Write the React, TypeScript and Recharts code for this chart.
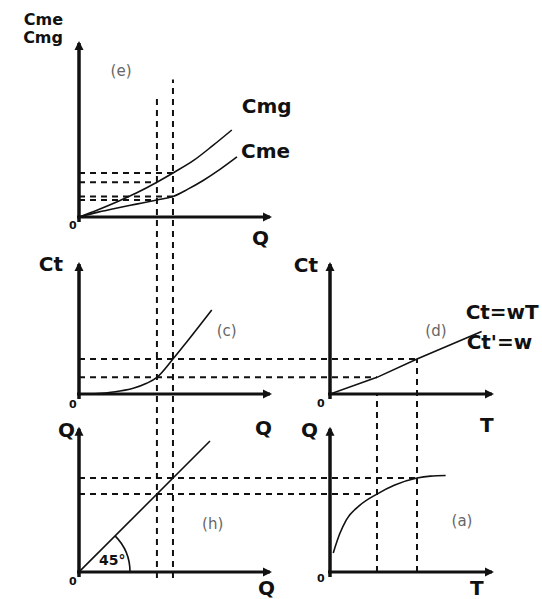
import React from 'react';
import { LineChart, Line, XAxis, YAxis, ReferenceLine, ReferenceDot } from 'recharts';

const W = 542;
const H = 599;

// two output levels followed through every panel
const Q1 = 4.08;
const Q2 = 4.92;

// (e) marginal and average cost against output
const cmgQ = [0, 1, 2, 3, Q1, Q2, 6, 7, 8];
const cmgV = [0, 0.42, 0.88, 1.38, 2.0, 2.53, 3.25, 4.1, 5.0];
const cmeQ = [0, 1, 2, 3, Q1, Q2, 5.7, 6.5, 7.4, 8.27];
const cmeV = [0, 0.28, 0.52, 0.74, 0.98, 1.18, 1.6, 2.1, 2.75, 3.45];
// height (in cost units of panel e) where the Q1 / Q2 guides stop
const qGuideTop = [7.0, 7.9];

// (c) total cost against output
const ctQ = [0, 1, 1.78, 2.84, 3.54, Q1, Q2, 5.64, 6.95];
const ctV = [0, 0.04, 0.15, 0.44, 0.82, 1.28, 2.69, 4.0, 6.46];

// (d) total cost against hours worked, Ct = wT
const T1 = 2.9;
const T2 = 5.37;
const wtT = [0, T1, T2, 9.36];
const wtV = [0, 1.28, 2.69, 4.8];

// (h) 45 degree line
const diagQ = [0, 6.86];

// (a) production function Q(T)
const prodT = [0.2, 0.6, 1.0, 1.85, T1, 4.0, T2, 6.2, 7.14];
const prodQ = [1.0, 2.0, 2.72, 3.5, Q1, 4.55, Q2, 5.02, 5.05];

const at = (xs: number[], ys: number[], x: number) => ys[xs.indexOf(x)];
const pts = (xs: number[], ys: number[]) => xs.map((x, i) => ({ x, y: ys[i] }));

const ct1 = at(ctQ, ctV, Q1);
const ct2 = at(ctQ, ctV, Q2);

// each panel: origin in pixels, pixels per unit, axis lengths
type Frame = { ox: number; oy: number; sx: number; sy: number; xMax: number; yMax: number };
const fE: Frame = { ox: 79, oy: 217, sx: 19.1, sy: 17.4, xMax: 10, yMax: 10 };
const fC: Frame = { ox: 79, oy: 394, sx: 19.1, sy: 13, xMax: 10, yMax: 10 };
const fD: Frame = { ox: 330, oy: 394, sx: 16.2, sy: 13, xMax: 10, yMax: 10 };
const fH: Frame = { ox: 79, oy: 572, sx: 19.1, sy: 19.1, xMax: 10, yMax: 7.5 };
const fA: Frame = { ox: 330, oy: 572, sx: 16.2, sy: 19.1, xMax: 10, yMax: 7.5 };

const pxY = (f: Frame, y: number) => f.oy - y * f.sy;
const unX = (f: Frame, px: number) => (px - f.ox) / f.sx;
const unY = (f: Frame, py: number) => (f.oy - py) / f.sy;

const INK = '#111';
const BOLD = { fontFamily: '"DejaVu Sans", sans-serif', fontWeight: 700, fontSize: 20, fill: INK };
const TAG = { fontFamily: '"DejaVu Sans", sans-serif', fontWeight: 400, fontSize: 15, fill: '#666' };
const ZERO = { fontFamily: '"DejaVu Sans", sans-serif', fontWeight: 700, fontSize: 11, fill: INK };

const arrowRight = (p: any) => (
  <polygon points={`${p.cx + 2},${p.cy} ${p.cx - 7},${p.cy - 4.5} ${p.cx - 7},${p.cy + 4.5}`} fill={INK} />
);
const arrowUp = (p: any) => (
  <polygon points={`${p.cx},${p.cy - 2} ${p.cx - 4.5},${p.cy + 7} ${p.cx + 4.5},${p.cy + 7}`} fill={INK} />
);

const dash = (k: string, a: { x: number; y: number }, b: { x: number; y: number }) => (
  <ReferenceLine
    key={k}
    segment={[a, b]}
    stroke={INK}
    strokeWidth={2}
    strokeDasharray="6 5"
    ifOverflow="visible"
  />
);

// text pinned to a data point
const label = (
  k: string,
  x: number,
  y: number,
  text: string,
  dx: number,
  dy: number,
  style: any,
  anchor: 'start' | 'middle' | 'end' = 'start'
) => (
  <ReferenceDot
    key={k}
    x={x}
    y={y}
    r={1}
    ifOverflow="visible"
    shape={(p: any) => (
      <text x={p.cx + dx} y={p.cy + dy} textAnchor={anchor} {...style}>
        {text}
      </text>
    )}
  />
);

const axes = (f: Frame, k: string) => [
  <ReferenceLine
    key={k + 'ax'}
    segment={[{ x: unX(f, f.ox - 2), y: 0 }, { x: f.xMax, y: 0 }]}
    stroke={INK}
    strokeWidth={3}
    ifOverflow="visible"
  />,
  <ReferenceLine
    key={k + 'ay'}
    segment={[{ x: 0, y: unY(f, f.oy + 5) }, { x: 0, y: f.yMax }]}
    stroke={INK}
    strokeWidth={3.5}
    ifOverflow="visible"
  />,
  <ReferenceDot key={k + 'tx'} x={f.xMax} y={0} r={1} ifOverflow="visible" shape={arrowRight} />,
  <ReferenceDot key={k + 'ty'} x={0} y={f.yMax} r={1} ifOverflow="visible" shape={arrowUp} />,
];

const curve = (xs: number[], ys: number[], type: 'monotone' | 'linear' = 'monotone') => (
  <Line
    data={pts(xs, ys)}
    dataKey="y"
    type={type}
    stroke={INK}
    strokeWidth={1.6}
    dot={false}
    activeDot={false}
    isAnimationActive={false}
  />
);

function Panel({ f, children }: { f: Frame; children: React.ReactNode }) {
  const margin = {
    top: f.oy - f.yMax * f.sy,
    left: f.ox,
    right: W - (f.ox + f.xMax * f.sx),
    bottom: H - f.oy,
  };
  return (
    <div style={{ position: 'absolute', left: 0, top: 0 }}>
      <LineChart width={W} height={H} margin={margin}>
        <XAxis type="number" dataKey="x" domain={[0, f.xMax]} hide allowDataOverflow />
        <YAxis type="number" dataKey="y" domain={[0, f.yMax]} hide allowDataOverflow />
        {children}
      </LineChart>
    </div>
  );
}

export default function App() {
  const cmg1 = at(cmgQ, cmgV, Q1);
  const cmg2 = at(cmgQ, cmgV, Q2);
  const cme1 = at(cmeQ, cmeV, Q1);
  const cme2 = at(cmeQ, cmeV, Q2);
  const cmgEnd = cmgQ.length - 1;
  const cmeEnd = cmeQ.length - 1;
  const ctEnd = ctQ.length - 1;
  const wtEnd = wtT.length - 1;

  return (
    <div style={{ position: 'relative', width: W, height: H, background: '#fff', overflow: 'hidden' }}>
      <style>{'body{margin:0}'}</style>

      {/* (e) Cme / Cmg */}
      <Panel f={fE}>
        {axes(fE, 'e')}
        {dash('e1', { x: 0, y: cmg2 }, { x: Q2, y: cmg2 })}
        {dash('e2', { x: 0, y: cmg1 }, { x: Q1, y: cmg1 })}
        {dash('e3', { x: 0, y: cme2 }, { x: Q2, y: cme2 })}
        {dash('e4', { x: 0, y: cme1 }, { x: Q1, y: cme1 })}
        {curve(cmgQ, cmgV)}
        {curve(cmeQ, cmeV)}
        {label('eT1', 0, fE.yMax, 'Cme', -16, -18, { ...BOLD, fontSize: 16 }, 'end')}
        {label('eT2', 0, fE.yMax, 'Cmg', -16, 0, { ...BOLD, fontSize: 16 }, 'end')}
        {label('eTag', 2.2, 8.1, '(e)', 0, 0, TAG, 'middle')}
        {label('eCmg', cmgQ[cmgEnd], cmgV[cmgEnd], 'Cmg', 10, -17, BOLD)}
        {label('eCme', cmeQ[cmeEnd], cmeV[cmeEnd], 'Cme', 4, 1, BOLD)}
        {label('e0', 0, 0, '0', -10, 12, ZERO)}
        {label('eQ', fE.xMax, 0, 'Q', -18, 28, BOLD)}
      </Panel>

      {/* (c) Ct(Q) */}
      <Panel f={fC}>
        {axes(fC, 'c')}
        {curve(ctQ, ctV)}
        {label('cT', 0, fC.yMax, 'Ct', -16, 7, BOLD, 'end')}
        {label('cTag', ctQ[ctEnd], ctV[ctEnd], '(c)', 15, 26, TAG, 'middle')}
        {label('c0', 0, 0, '0', -10, 14, ZERO)}
        {label('cQ', fC.xMax, 0, 'Q', -15, 41, BOLD)}
      </Panel>

      {/* (d) Ct = wT, guides run back to the cost axis of (c) */}
      <Panel f={fD}>
        {axes(fD, 'd')}
        {dash('d1', { x: unX(fD, fC.ox), y: ct2 }, { x: T2, y: ct2 })}
        {dash('d2', { x: unX(fD, fC.ox), y: ct1 }, { x: T1, y: ct1 })}
        {curve(wtT, wtV, 'linear')}
        {label('dT', 0, fD.yMax, 'Ct', -12, 8, BOLD, 'end')}
        {label('dTag', 6.54, 4.46, '(d)', 0, 0, TAG, 'middle')}
        {label('dL1', wtT[wtEnd], wtV[wtEnd], 'Ct=wT', -16, -13, BOLD)}
        {label('dL2', wtT[wtEnd], wtV[wtEnd], "Ct'=w", -15, 17, BOLD)}
        {label('d0', 0, 0, '0', -13, 13, ZERO)}
        {label('dX', fD.xMax, 0, 'T', -12, 38, BOLD)}
      </Panel>

      {/* (h) 45 degree line, carries the Q guides up through (c) and (e) */}
      <Panel f={fH}>
        {axes(fH, 'h')}
        {dash('h1', { x: Q1, y: unY(fH, fH.oy + 6) }, { x: Q1, y: unY(fH, pxY(fE, qGuideTop[0])) })}
        {dash('h2', { x: Q2, y: unY(fH, fH.oy + 6) }, { x: Q2, y: unY(fH, pxY(fE, qGuideTop[1])) })}
        {curve(diagQ, diagQ, 'linear')}
        <ReferenceDot
          key="hArc"
          x={0}
          y={0}
          r={1}
          ifOverflow="visible"
          shape={(p: any) => {
            const r = 51;
            const a = Math.PI / 4;
            return (
              <path
                d={`M ${p.cx + r} ${p.cy} A ${r} ${r} 0 0 0 ${p.cx + r * Math.cos(a)} ${p.cy - r * Math.sin(a)}`}
                fill="none"
                stroke={INK}
                strokeWidth={1.6}
              />
            );
          }}
        />
        {label('h45', 0, 0, '45°', 20, -7, { ...BOLD, fontSize: 14 })}
        {label('hT', 0, fH.yMax, 'Q', -4, 8, BOLD, 'end')}
        {label('hTag', 7.0, 2.25, '(h)', 0, 0, TAG, 'middle')}
        {label('h0', 0, 0, '0', -10, 13, ZERO)}
        {label('hQ', fH.xMax, 0, 'Q', -12, 23, BOLD)}
      </Panel>

      {/* (a) Q(T), guides back to (h) and up to (d) */}
      <Panel f={fA}>
        {axes(fA, 'a')}
        {dash('a1', { x: unX(fA, fH.ox), y: Q2 }, { x: T2, y: Q2 })}
        {dash('a2', { x: unX(fA, fH.ox), y: Q1 }, { x: T1, y: Q1 })}
        {dash('a3', { x: T1, y: 0 }, { x: T1, y: unY(fA, fD.oy) })}
        {dash('a4', { x: T2, y: 0 }, { x: T2, y: unY(fA, pxY(fD, ct2)) })}
        {curve(prodT, prodQ)}
        {label('aT', 0, fA.yMax, 'Q', -12, 8, BOLD, 'end')}
        {label('aTag', 8.15, 2.4, '(a)', 0, 0, TAG, 'middle')}
        {label('a0', 0, 0, '0', -13, 10, ZERO)}
        {label('aX', fA.xMax, 0, 'T', -22, 23, BOLD)}
      </Panel>
    </div>
  );
}
